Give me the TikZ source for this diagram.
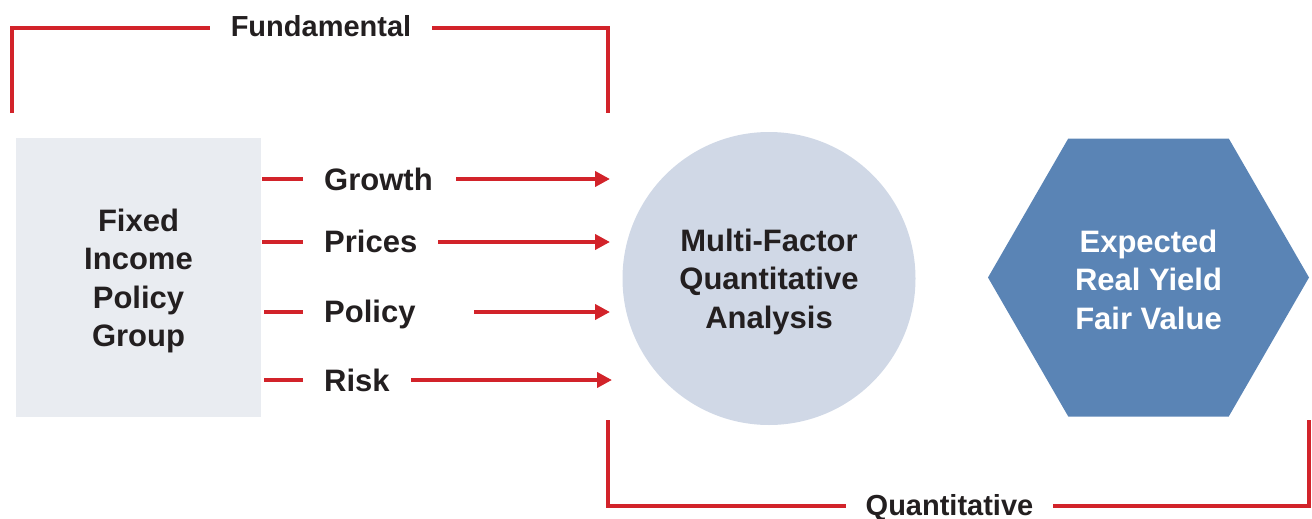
\documentclass[tikz,border=0pt]{standalone}
\usepackage{fontspec}
\setmainfont{Liberation Sans}
\usetikzlibrary{arrows.meta,shapes.geometric}
\definecolor{rline}{HTML}{D2232A}
\definecolor{txt}{HTML}{231F20}
\definecolor{boxfill}{HTML}{E9ECF1}
\definecolor{circfill}{HTML}{D0D8E6}
\definecolor{hexfill}{HTML}{5A84B5}
\tikzset{
  redline/.style={draw=rline, line width=4pt},
  redarrow/.style={redline, -{Triangle[length=15pt,width=15pt]}},
  bigtxt/.style={font=\fontsize{31}{38.5}\selectfont\bfseries, text=txt, align=center, inner sep=0pt},
  brtxt/.style={font=\fontsize{29}{34}\selectfont\bfseries, text=txt, inner sep=0pt, anchor=base},
  lbl/.style={font=\fontsize{31}{39}\selectfont\bfseries, text=txt, inner sep=0pt, anchor=base west},
}
\begin{document}
\begin{tikzpicture}[x=1pt,y=-1pt]
\useasboundingbox (0,0) rectangle (1312,519);
% shapes
\node[fill=boxfill, minimum width=245pt, minimum height=279pt,
  label={[bigtxt, yshift=-3.5pt]center:{Fixed\\Income\\Policy\\Group}}] (box) at (138.5,277.5) {};
\node[circle, fill=circfill, minimum size=293pt,
  label={[bigtxt, yshift=-3pt]center:{Multi-Factor\\Quantitative\\Analysis}}] (mfa) at (769,278.5) {};
\node[regular polygon, regular polygon sides=6, fill=hexfill, minimum size=321pt, inner sep=0pt,
  label={[bigtxt, text=white, yshift=-2pt]center:{Expected\\Real Yield\\Fair Value}}] (hex) at (1148.5,277.5) {};
% factor labels
\node[lbl] (g) at (324,190) {Growth};
\node[lbl] (p) at (324,252) {Prices};
\node[lbl] (y) at (324,322) {Policy};
\node[lbl] (r) at (324,391) {Risk};
% connector ends
\coordinate (gs) at (262,179); \coordinate (ge) at (303,179);
\coordinate (ps) at (262,242); \coordinate (pe) at (303,242);
\coordinate (ys) at (264,312); \coordinate (ye) at (303,312);
\coordinate (rs) at (264,380); \coordinate (re) at (303,380);
\coordinate (ga) at (456,179); \coordinate (gt) at (610,179);
\coordinate (pa) at (438,242); \coordinate (pt) at (610,242);
\coordinate (ya) at (474,312); \coordinate (yt) at (610,312);
\coordinate (ra) at (411,380); \coordinate (rt) at (612,380);
\draw[redline] (gs) -- (ge);
\draw[redline] (ps) -- (pe);
\draw[redline] (ys) -- (ye);
\draw[redline] (rs) -- (re);
\draw[redarrow] (ga) -- (gt);
\draw[redarrow] (pa) -- (pt);
\draw[redarrow] (ya) -- (yt);
\draw[redarrow] (ra) -- (rt);
% Fundamental bracket
\coordinate (f1) at (12,113); \coordinate (f2) at (12,28); \coordinate (f3) at (210,28);
\coordinate (f4) at (432,28); \coordinate (f5) at (608,28); \coordinate (f6) at (608,113);
\draw[redline] (f1) -- (f2) -- (f3);
\draw[redline] (f4) -- (f5) -- (f6);
\node[brtxt] (fund) at (321,37) {Fundamental};
% Quantitative bracket
\coordinate (q1) at (608,420); \coordinate (q2) at (608,506); \coordinate (q3) at (846,506);
\coordinate (q4) at (1053,506); \coordinate (q5) at (1309,506); \coordinate (q6) at (1309,420);
\draw[redline] (q1) -- (q2) -- (q3);
\draw[redline] (q4) -- (q5) -- (q6);
\node[brtxt] (quant) at (949.5,515) {Quantitative};
\end{tikzpicture}
\end{document}
